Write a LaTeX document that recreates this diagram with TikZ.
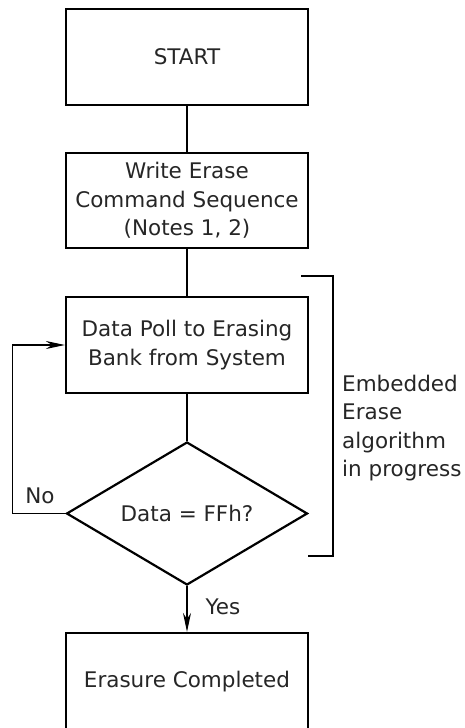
\documentclass[tikz,border=0pt]{standalone}
\usepackage{fontspec}
\setmainfont{DejaVu Sans}
\usetikzlibrary{shapes.geometric,arrows.meta}
\begin{document}
\begin{tikzpicture}[x=1pt,y=-1pt,
  every node/.style={font=\fontsize{21.5}{28.5}\selectfont,text=black!85},
  box/.style={draw,line width=2.2pt,minimum width=242pt,align=center,inner sep=0pt},
  test/.style={draw,diamond,line width=2.2pt,aspect=1.7,minimum width=241pt,minimum height=143pt,inner sep=0pt},
  flow/.style={line width=1.3pt},
  tip/.style={-{Stealth[length=19pt,width=8pt,inset=6pt]}}]
\useasboundingbox (0,0) rectangle (465,728);

\node[box,minimum height=96pt] (start) at (187,57) {START};
\node[box,minimum height=95pt] (write) at (187,200.5) {Write Erase\\Command Sequence\\(Notes 1, 2)};
\node[box,minimum height=96pt] (poll) at (187,345) {Data Poll to Erasing\\Bank from System};
\node[test] (check) at (187,513.5) {Data = FFh?};
\node[box,minimum height=98pt] (done) at (187,682) {Erasure Completed};

\draw[flow] (start) -- (write);
\draw[flow] (write) -- (poll);
\draw[flow] (poll) -- (check);
\draw[flow,tip] (check) -- (done);
\draw[flow,tip] (check.west) -- ++(-53,0) |- (poll.west);

\node (no) at (40,496) {No};
\node (yes) at (223,607) {Yes};

\draw[line width=2.2pt] (301,276) -- (333,276) -- (333,556) -- (308,556);
\node[anchor=west,align=left,inner sep=0pt] (embedded) at (342,428) {Embedded\\Erase\\algorithm\\in progress};
\end{tikzpicture}
\end{document}
